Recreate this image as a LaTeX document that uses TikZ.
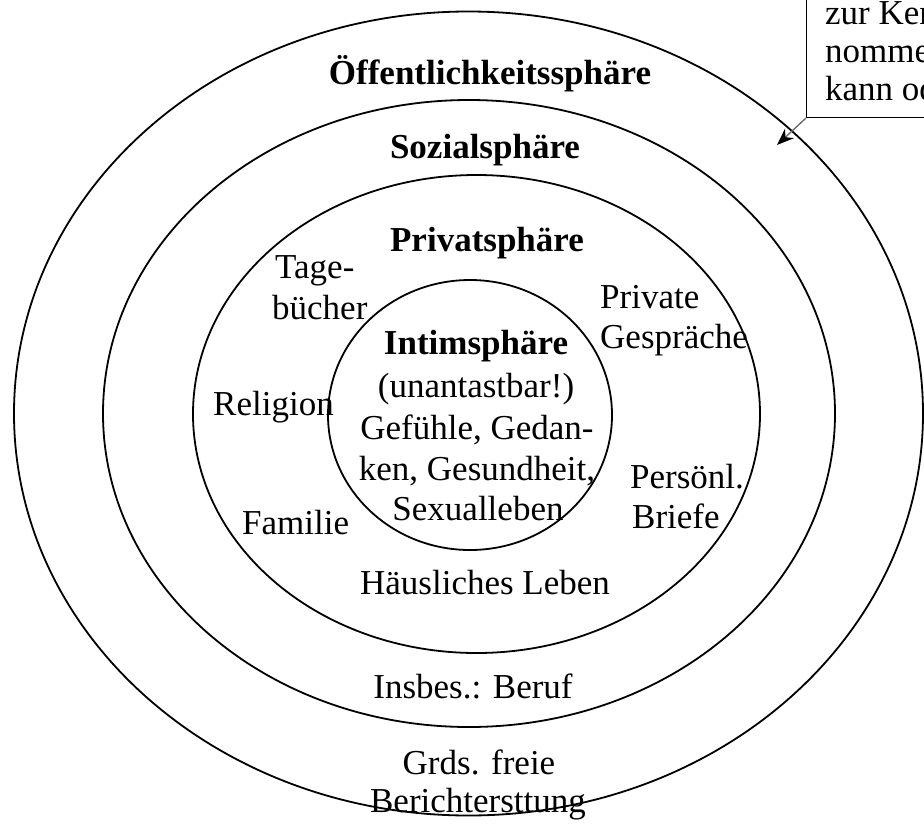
\documentclass[tikz,border=0pt]{standalone}
\usepackage{fontspec}
\setmainfont{Liberation Serif}
\usetikzlibrary{arrows.meta}
\begin{document}
\begin{tikzpicture}[x=1pt,y=-1pt,
  ring/.style={draw, line width=1.8pt},
  lbl/.style={font=\fontsize{35}{37}\selectfont, anchor=base, inner sep=0pt},
  lbll/.style={lbl, anchor=base west},
  ttl/.style={lbl, font=\fontsize{35}{37}\selectfont\bfseries},
  pointer/.style={draw=black!60, line width=1.3pt, -{Stealth[length=17pt,width=13pt,color=black]}}]
\useasboundingbox (0,0) rectangle (924,830);
\clip (0,0) rectangle (924,830);
\fill[white] (0,0) rectangle (924,830);
% rings
\draw[ring] (468.5,413.5) ellipse [x radius=454.5, y radius=402];
\draw[ring] (469,413.5) ellipse [x radius=366, y radius=313.5];
\draw[ring] (476.5,414) ellipse [x radius=283.5, y radius=239];
\draw[ring] (470,415) ellipse [x radius=142, y radius=135];
% titles
\node[ttl] (oeff) at (490,84) {Öffentlichkeitssphäre};
\node[ttl] (soz) at (485,158) {Sozialsphäre};
\node[ttl] (priv) at (487,251) {Privatsphäre};
\node[ttl] (intim) at (476,354) {Intimsphäre};
% inner
\node[lbl] (i1) at (476,397) {(unantastbar!)};
\node[lbl] (i2) at (477,439) {Gefühle, Gedan-};
\node[lbl] (i3) at (477,480) {ken, Gesundheit,};
\node[lbl] (i4) at (478,520) {Sexualleben};
% private sphere
\node[lbll] (t1) at (275,278) {Tage-};
\node[lbll] (t2) at (272,319) {bücher};
\node[lbll] (p1) at (600,308) {Private};
\node[lbll] (p2) at (600,348) {Gespräche};
\node[lbll] (rel) at (213,415) {Religion};
\node[lbll] (fam) at (242,534) {Familie};
\node[lbll] (b1) at (630,488) {Persönl.};
\node[lbll] (b2) at (632,528) {Briefe};
\node[lbl] (haus) at (485,594) {Häusliches Leben};
% social / public
\node[lbl] (beruf) at (473,698) {Insbes.: Beruf};
\node[lbl] (g1) at (479,774) {Grds. freie};
\node[lbl] (g2) at (478,812) {Berichtersttung};
% box
\node[draw, line width=1.2pt, anchor=south west, minimum width=300pt, minimum height=180pt, inner sep=0pt] (box) at (806,118) {};
\node[lbll] (x1) at (825,24) {zur Ken};
\node[lbll] (x2) at (825,62) {nomme};
\node[lbll] (x3) at (825,100) {kann od};
\coordinate (tip) at (777,145);
\draw[pointer] (box.south west) -- (tip);
\end{tikzpicture}
\end{document}
